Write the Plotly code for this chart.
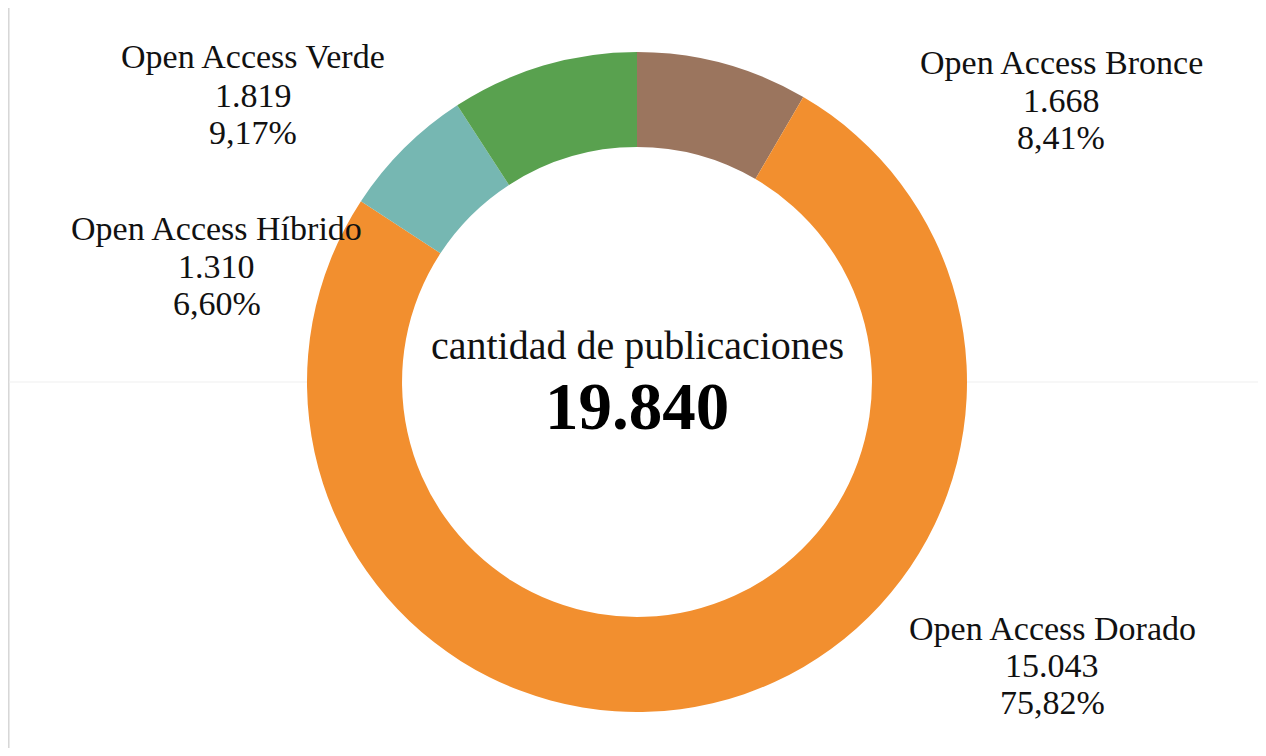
import plotly.graph_objects as go

categories = ["Open Access Bronce", "Open Access Dorado", "Open Access Híbrido", "Open Access Verde"]
values = [1668, 15043, 1310, 1819]
colors = ["#9B755E", "#F28F2F", "#76B7B2", "#59A14F"]
center_title = "cantidad de publicaciones"

# page body has an 8px margin; figure fills the rest of the window
OFF = 8
W, H = 1266 - 2 * OFF, 756 - 2 * OFF
total = sum(values)


def fmt_int(n):
    return f"{n:,}".replace(",", ".")


def fmt_pct(v):
    return f"{v:.2f}".replace(".", ",") + "%"


def px(x):
    return (x - OFF) / W


def py(y):
    return 1 - (y - OFF) / H


# pie geometry in screen pixels
cx, cy, R = 637, 382, 330

fig = go.Figure(go.Pie(
    labels=categories,
    values=values,
    marker=dict(colors=colors, line=dict(width=0)),
    hole=0.712,
    sort=False,
    direction="clockwise",
    rotation=0,
    textinfo="none",
    showlegend=False,
    domain=dict(x=[px(cx - R), px(cx + R)], y=[py(cy + R), py(cy - R)]),
))

# label anchor positions (screen pixel centres of the three lines)
label_pos = {
    "Open Access Bronce": (1061, [62, 100, 137]),
    "Open Access Dorado": (1052, [628, 665, 702]),
    "Open Access Híbrido": (217, [228, 266, 303]),
    "Open Access Verde": (253, [57, 95, 133]),
}

font_family = "Liberation Serif, Times New Roman, serif"
annotations = []
for cat, val in zip(categories, values):
    x, ys = label_pos[cat]
    lines = [cat, fmt_int(val), fmt_pct(val / total * 100)]
    for line, y in zip(lines, ys):
        annotations.append(dict(
            x=px(x), y=py(y), xref="paper", yref="paper",
            text=line, showarrow=False, xanchor="center", yanchor="middle",
            font=dict(family=font_family, size=34, color="#111111"),
        ))

annotations.append(dict(
    x=px(cx), y=py(345), xref="paper", yref="paper",
    text=center_title, showarrow=False, xanchor="center", yanchor="middle",
    font=dict(family=font_family, size=40, color="#111111"),
))
annotations.append(dict(
    x=px(cx), y=py(406), xref="paper", yref="paper",
    text="<b>" + fmt_int(total) + "</b>", showarrow=False, xanchor="center", yanchor="middle",
    font=dict(family=font_family, size=67, color="#000000"),
))

shapes = [
    dict(type="line", xref="paper", yref="paper", x0=px(8.8), x1=px(8.8), y0=0, y1=py(5),
         line=dict(color="#D6D6D6", width=1.5), layer="below"),
    dict(type="line", xref="paper", yref="paper", x0=px(9), x1=px(cx - R), y0=py(382), y1=py(382),
         line=dict(color="#EFEFEF", width=1.2), layer="below"),
    dict(type="line", xref="paper", yref="paper", x0=px(cx + R), x1=1, y0=py(382), y1=py(382),
         line=dict(color="#EFEFEF", width=1.2), layer="below"),
]

fig.update_layout(
    width=W, height=H,
    margin=dict(l=0, r=0, t=0, b=0),
    paper_bgcolor="white", plot_bgcolor="white",
    annotations=annotations,
    shapes=shapes,
)

fig.write_html("out.html")
